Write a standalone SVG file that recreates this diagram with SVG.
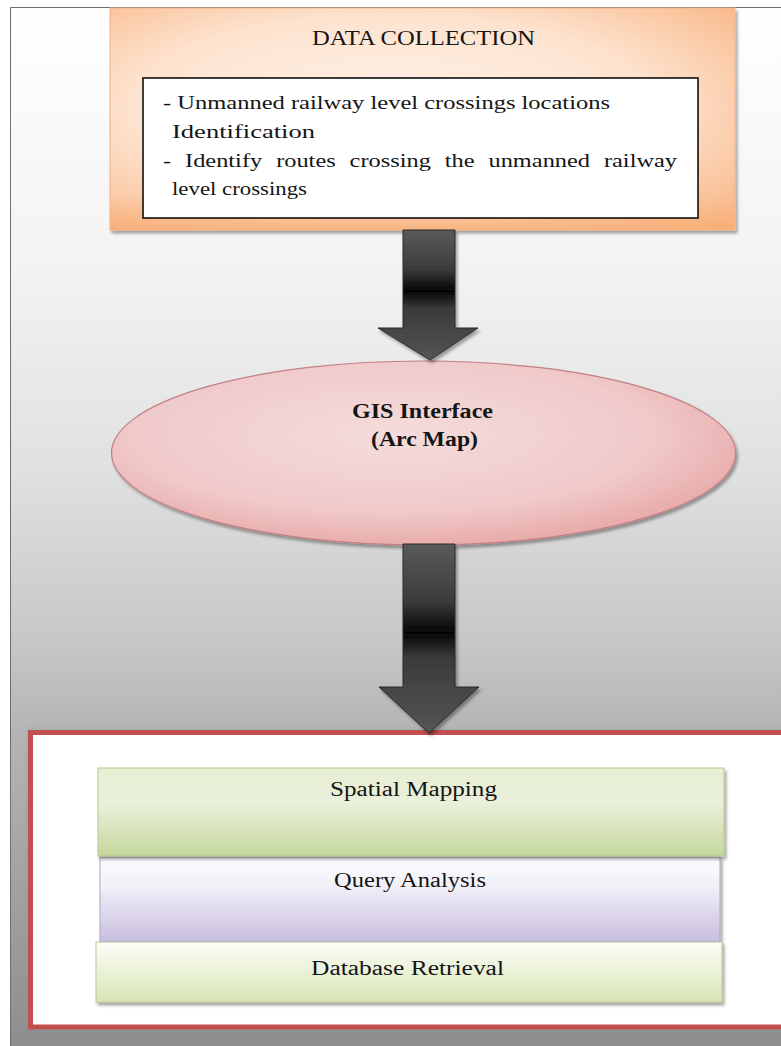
<svg xmlns="http://www.w3.org/2000/svg" width="781" height="1046" viewBox="0 0 781 1046">
<defs>
<style>
.t{font-family:"Liberation Serif","Times New Roman",serif;font-size:18px;fill:#151515;}
.b{font-weight:bold;}
.l{font-size:20px;}
</style>
<linearGradient id="bg" x1="0" y1="0" x2="0" y2="1">
<stop offset="0" stop-color="#ffffff"/>
<stop offset="0.25" stop-color="#f3f3f3"/>
<stop offset="0.45" stop-color="#e0e0e0"/>
<stop offset="0.6" stop-color="#c9c9c9"/>
<stop offset="0.69" stop-color="#b6b6b6"/>
<stop offset="1" stop-color="#8e8e8e"/>
</linearGradient>
<radialGradient id="org" cx="0.45" cy="0.45" r="0.75">
<stop offset="0" stop-color="#fff3ea"/>
<stop offset="0.55" stop-color="#fde3cf"/>
<stop offset="1" stop-color="#f8b583"/>
</radialGradient>
<linearGradient id="orgb" x1="0" y1="0" x2="0" y2="1">
<stop offset="0.85" stop-color="#f8b583" stop-opacity="0"/>
<stop offset="1" stop-color="#f7ad74" stop-opacity="0.8"/>
</linearGradient>
<radialGradient id="pink" cx="0.45" cy="0.4" r="0.7">
<stop offset="0" stop-color="#f5dcdc"/>
<stop offset="0.6" stop-color="#f0c9c9"/>
<stop offset="1" stop-color="#e59c9c"/>
</radialGradient>
<linearGradient id="green" x1="0" y1="0" x2="0" y2="1">
<stop offset="0" stop-color="#e6eed2"/>
<stop offset="0.4" stop-color="#eaf0dc"/>
<stop offset="1" stop-color="#c5d89a"/>
</linearGradient>
<linearGradient id="lav" x1="0" y1="0" x2="0" y2="1">
<stop offset="0" stop-color="#fdfdff"/>
<stop offset="0.35" stop-color="#f1eff7"/>
<stop offset="1" stop-color="#c8bedf"/>
</linearGradient>
<linearGradient id="lgreen" x1="0" y1="0" x2="0" y2="1">
<stop offset="0" stop-color="#fcfef8"/>
<stop offset="1" stop-color="#d8e5b6"/>
</linearGradient>
<linearGradient id="arr" x1="0" y1="0" x2="0" y2="1">
<stop offset="0" stop-color="#5a5a5a"/>
<stop offset="0.3" stop-color="#3c3c3c"/>
<stop offset="0.47" stop-color="#050505"/>
<stop offset="0.6" stop-color="#3a3a3a"/>
<stop offset="1" stop-color="#555555"/>
</linearGradient>
<filter id="sh" x="-5%" y="-5%" width="112%" height="120%">
<feDropShadow dx="2" dy="3" stdDeviation="1.5" flood-color="#000" flood-opacity="0.35"/>
</filter>
<filter id="glow" x="-5%" y="-5%" width="110%" height="110%">
<feDropShadow dx="0" dy="0" stdDeviation="2.5" flood-color="#7f9aa3" flood-opacity="0.6"/>
</filter>
</defs>

<g id="background">
<rect x="10" y="7" width="771" height="1039" fill="url(#bg)"/>
<path d="M781,7.5 H10.5 V1046" fill="none" stroke="#6e6e6e" stroke-width="1"/>
</g>

<g id="data-collection">
<rect x="110" y="8" width="625" height="222" fill="url(#org)" stroke="#f3b387" stroke-width="1" filter="url(#sh)"/>
<rect x="110" y="8" width="625" height="222" fill="url(#orgb)"/>
<text class="t l" x="312" y="45" textLength="223" lengthAdjust="spacingAndGlyphs">DATA COLLECTION</text>
<rect x="143" y="78" width="555" height="140" fill="#ffffff" stroke="#000000" stroke-width="1.5"/>
<text class="t" x="163" y="109" textLength="447" lengthAdjust="spacingAndGlyphs">- Unmanned railway level crossings locations</text>
<text class="t" x="172" y="138" textLength="143" lengthAdjust="spacingAndGlyphs">Identification</text>
<text class="t" x="163" y="167" word-spacing="5.8" textLength="514" lengthAdjust="spacingAndGlyphs">- Identify routes crossing the unmanned railway</text>
<text class="t" x="172" y="195" textLength="135" lengthAdjust="spacingAndGlyphs">level crossings</text>
</g>

<g id="gis-interface">
<ellipse cx="423.5" cy="453" rx="312" ry="92" fill="url(#pink)" stroke="#c27f84" stroke-width="1.2" filter="url(#sh)"/>
<text class="t l b" x="352" y="418" textLength="141" lengthAdjust="spacingAndGlyphs">GIS Interface</text>
<text class="t l b" x="371" y="446" textLength="107" lengthAdjust="spacingAndGlyphs">(Arc Map)</text>
</g>

<g id="output-panel">
<rect x="30.5" y="732.5" width="800" height="294.5" fill="#ffffff" stroke="#c0504d" stroke-width="5" filter="url(#glow)"/>
</g>

<g id="query-analysis">
<rect x="100" y="857" width="620" height="85" fill="url(#lav)" stroke="#a9a9c4" stroke-width="1" filter="url(#sh)"/>
<text class="t l" x="334" y="887" textLength="152" lengthAdjust="spacingAndGlyphs">Query Analysis</text>
</g>

<g id="database-retrieval">
<rect x="96" y="942" width="626" height="60" fill="url(#lgreen)" stroke="#b9c79c" stroke-width="1" filter="url(#sh)"/>
<text class="t l" x="311" y="975" textLength="193" lengthAdjust="spacingAndGlyphs">Database Retrieval</text>
</g>

<g id="spatial-mapping">
<rect x="98" y="768" width="626" height="88" fill="url(#green)" stroke="#b7c78f" stroke-width="1" filter="url(#sh)"/>
<text class="t l" x="330" y="796" textLength="167" lengthAdjust="spacingAndGlyphs">Spatial Mapping</text>
</g>

<g id="connectors">
<path d="M403,230 H455 V328 H478 L430,360 L378,328 H403 Z" fill="url(#arr)" stroke="#2a2a2a" stroke-width="1" filter="url(#sh)"/>
<path d="M403,544 H455 V687 H479 L429,733 L379,687 H403 Z" fill="url(#arr)" stroke="#2a2a2a" stroke-width="1" filter="url(#sh)"/>
</g>
</svg>
